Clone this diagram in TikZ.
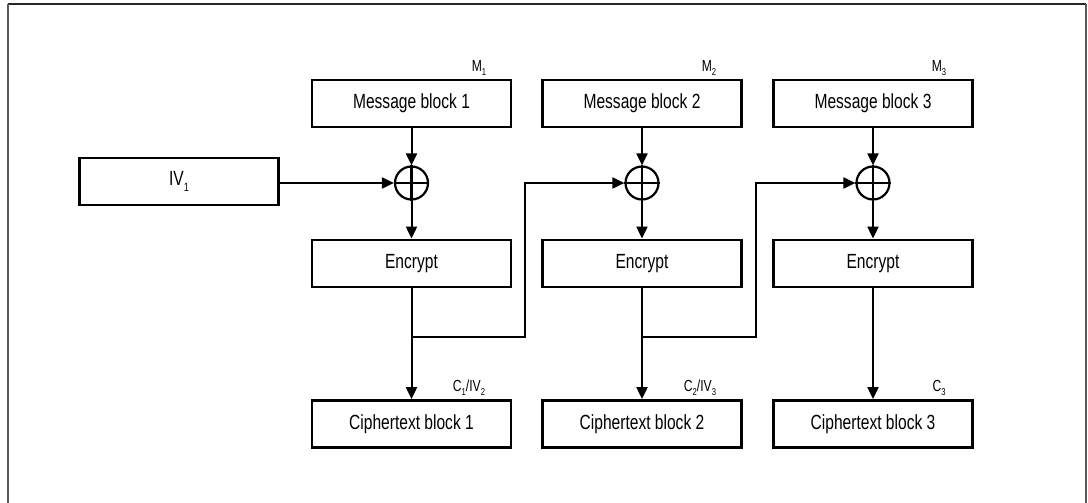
\documentclass[tikz,border=0pt]{standalone}
\usepackage{fontspec}
\setmainfont[FakeStretch=0.76]{Liberation Sans}
\usetikzlibrary{arrows.meta}
\newcommand{\lowsub}[1]{\raisebox{-0.5ex}{\fontsize{10}{10}\selectfont #1}}
\newcommand{\bigsub}[1]{\raisebox{-0.5ex}{\fontsize{12}{12}\selectfont #1}}
\tikzset{
  blockbox/.style={draw, line width=2.8pt, minimum width=199pt, minimum height=47pt, inner sep=0pt, font=\fontsize{20.5}{21}\selectfont},
  xorc/.style={draw, circle, line width=2.2pt, minimum size=33pt, inner sep=0pt},
  arr/.style={line width=2pt, -{Triangle[length=12pt,width=11pt]}},
  lbl/.style={font=\fontsize{16}{17}\selectfont, inner sep=0pt}
}
\begin{document}
\begin{tikzpicture}[x=1pt,y=-1pt]
\useasboundingbox (0,0) rectangle (1088,503);
% frame
\draw[line width=2pt, black!85] (7.5,4.5) -- (1086,4.5);
\draw[line width=2pt, black!65] (7.5,4.5) -- (7.5,503);
\draw[line width=2pt, black!65] (1086,4.5) -- (1086,503);
% blocks
\node[blockbox] (m1) at (411.5,103.5) {Message block 1};
\node[blockbox] (m2) at (642,103.5) {Message block 2};
\node[blockbox] (m3) at (873,103.5) {Message block 3};
\node[blockbox] (iv) at (179,181.5) {IV\bigsub{1}};
\node[blockbox] (e1) at (411.5,263.5) {Encrypt};
\node[blockbox] (e2) at (642,263.5) {Encrypt};
\node[blockbox] (e3) at (873,263.5) {Encrypt};
\node[blockbox] (c1) at (411.5,424) {Ciphertext block 1};
\node[blockbox] (c2) at (642,424) {Ciphertext block 2};
\node[blockbox] (c3) at (873,424) {Ciphertext block 3};
% xor
\node[xorc] (x1) at (411.5,183) {};
\node[xorc] (x2) at (642,183) {};
\node[xorc] (x3) at (873,183) {};
\foreach \x in {x1,x2,x3}{
  \draw[line width=2.2pt] (\x.north) -- (\x.south) (\x.west) -- (\x.east);
}
% labels
\node[lbl] (lm1) at (479,68) {M\lowsub{1}};
\node[lbl] (lm2) at (709,68) {M\lowsub{2}};
\node[lbl] (lm3) at (939,68) {M\lowsub{3}};
\node[lbl] (lc1) at (469,388) {C\lowsub{1}/IV\lowsub{2}};
\node[lbl] (lc2) at (700,388) {C\lowsub{2}/IV\lowsub{3}};
\node[lbl] (lc3) at (939,388) {C\lowsub{3}};
% connectors
\foreach \i in {1,2,3}{
  \draw[arr] (m\i.south) -- (x\i.north);
  \draw[arr] (x\i.south) -- (e\i.north);
  \draw[arr] (e\i.south) -- (c\i.north);
}
\draw[arr] (iv.east |- x1.west) -- (x1.west);
\coordinate (j1) at (411.5,337);
\coordinate (j2) at (642,337);
\draw[arr] (j1) -- ++(113.5,0) |- (x2.west);
\draw[arr] (j2) -- ++(114,0) |- (x3.west);
\end{tikzpicture}
\end{document}
